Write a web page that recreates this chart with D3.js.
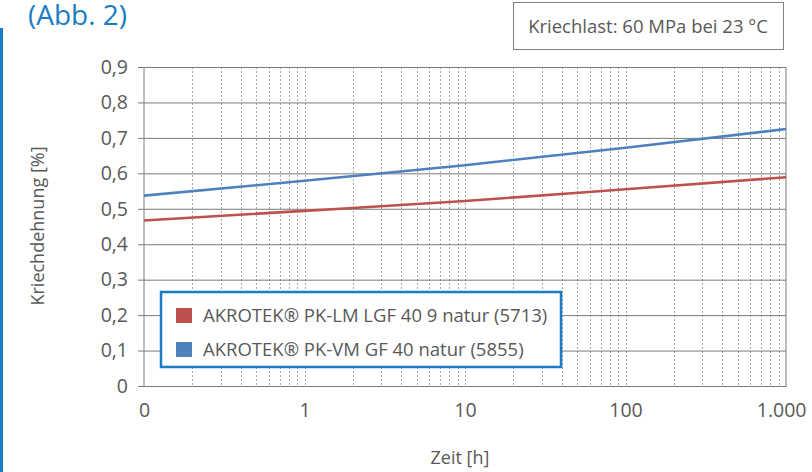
<!DOCTYPE html>
<html>
<head>
<meta charset="utf-8">
<script src="https://cdn.jsdelivr.net/npm/d3@7"></script>
<style>
  body { margin: 0; background: #fff; }
  svg { display: block; font-family: "Open Sans", sans-serif; }
</style>
</head>
<body>
<div id="chart"></div>
<script>
// chart data
var times = [0.1, 1, 10, 100, 1000];
var lmValues = [0.467, 0.494, 0.522, 0.555, 0.589];   // PK-LM LGF 40 9
var vmValues = [0.537, 0.579, 0.623, 0.672, 0.725];   // PK-VM GF 40
var seriesNames = ["AKROTEK\u00ae PK-LM LGF 40 9 natur (5713)", "AKROTEK\u00ae PK-VM GF 40 natur (5855)"];
var yTicks = [0, 0.1, 0.2, 0.3, 0.4, 0.5, 0.6, 0.7, 0.8, 0.9];
var xTicks = [0.1, 1, 10, 100, 1000];
var xTickLabels = ["0", "1", "10", "100", "1.000"];

var W = 812, H = 472;
var blue = "#1a7cc1", textCol = "#595959", gridCol = "#7a7a7a";
var colors = ["#c0504d", "#4f81bd"];

var svg = d3.select("#chart").append("svg").attr("width", W).attr("height", H);

var x = d3.scaleLog().domain([0.1, 1000]).range([144, 786]);
var y = d3.scaleLinear().domain([0, 0.9]).range([386, 67]);

// left blue frame line + title
svg.append("line").attr("x1", 1.5).attr("x2", 1.5).attr("y1", 28).attr("y2", H)
    .style("stroke", blue).style("stroke-width", 3);
svg.append("text").attr("x", 28).attr("y", 25).text("(Abb. 2)")
    .style("fill", blue).style("font-size", "28px");

// creep load box
svg.append("rect").attr("x", 513.5).attr("y", 2.5).attr("width", 270).attr("height", 47)
    .style("fill", "white").style("stroke", "#7f7f7f").style("stroke-width", 1);
svg.append("text").attr("x", 648).attr("y", 33).attr("text-anchor", "middle")
    .text("Kriechlast: 60 MPa bei 23 \u00b0C").style("fill", textCol).style("font-size", "18.5px");

// minor vertical grid (dotted)
var minor = [];
[0.1, 1, 10, 100].forEach(function(d){
    for (var k = 2; k <= 10; k++) { minor.push(d * k); }
});
minor = minor.filter(function(d){ return d < 1000; });
svg.append("g").selectAll("line").data(minor).enter().append("line")
    .attr("x1", function(d){ return Math.round(x(d)) + 0.5; })
    .attr("x2", function(d){ return Math.round(x(d)) + 0.5; })
    .attr("y1", y(0.9)).attr("y2", y(0))
    .style("stroke", "#a8a8a8").style("stroke-width", 1).style("stroke-dasharray", "2,2");

// horizontal grid + y axis
var yAxis = d3.axisLeft(y).tickValues(yTicks).tickSize(6)
    .tickFormat(function(d){ return d === 0 ? "0" : d3.format(".1f")(d).replace(".", ","); });
var gy = svg.append("g").attr("transform", "translate(144,0)").call(yAxis);
gy.select(".domain").remove();
gy.selectAll(".tick line").attr("x2", -6).attr("x1", 642).style("stroke", gridCol);
gy.selectAll(".tick text").attr("x", -16).style("fill", textCol).style("font-size", "19.5px")
    .style("font-family", "Open Sans, sans-serif");

// plot frame
svg.append("line").attr("x1", 144).attr("x2", 144).attr("y1", 67).attr("y2", 386).style("stroke", gridCol);
svg.append("line").attr("x1", 786).attr("x2", 786).attr("y1", 67).attr("y2", 386).style("stroke", gridCol);

// x axis
var xAxis = d3.axisBottom(x).tickValues(xTicks).tickSize(0)
    .tickFormat(function(d, i){ return xTickLabels[i]; });
var gx = svg.append("g").attr("transform", "translate(0,386)").call(xAxis);
gx.select(".domain").style("stroke", gridCol);
gx.selectAll(".tick text").attr("y", 17).style("fill", textCol).style("font-size", "19.5px")
    .style("font-family", "Open Sans, sans-serif");
// last label is pushed inside the page, as in the original
gx.selectAll(".tick text").filter(function(d){ return d === 1000; })
    .attr("text-anchor", "end").attr("x", 20);

// axis titles
svg.append("text").attr("transform", "translate(44,226) rotate(-90)").attr("text-anchor", "middle")
    .text("Kriechdehnung [%]").style("fill", textCol).style("font-size", "18px");
svg.append("text").attr("x", 460).attr("y", 464).attr("text-anchor", "middle")
    .text("Zeit [h]").style("fill", textCol).style("font-size", "18px");

// series lines
var line = d3.line()
    .x(function(d){ return x(d[0]); })
    .y(function(d){ return y(d[1]); })
    .curve(d3.curveMonotoneX);
[lmValues, vmValues].forEach(function(vals, i){
    svg.append("path")
        .datum(times.map(function(t, j){ return [t, vals[j]]; }))
        .attr("d", line)
        .style("fill", "none").style("stroke", colors[i]).style("stroke-width", 2.6);
});

// legend
var legend = svg.append("g");
legend.append("rect").attr("x", 161).attr("y", 292).attr("width", 400).attr("height", 75)
    .style("fill", "white").style("stroke", blue).style("stroke-width", 2.5);
var items = legend.selectAll(".item").data(seriesNames).enter().append("g")
    .attr("class", "item")
    .attr("transform", function(d, i){ return "translate(176," + (315 + i * 34) + ")"; });
items.append("rect").attr("x", 0).attr("y", -7).attr("width", 16).attr("height", 15)
    .style("fill", function(d, i){ return colors[i]; });
items.append("text").attr("x", 27).attr("y", 7).text(function(d){ return d; })
    .style("fill", textCol).style("font-size", "18.5px");
</script>
</body>
</html>
